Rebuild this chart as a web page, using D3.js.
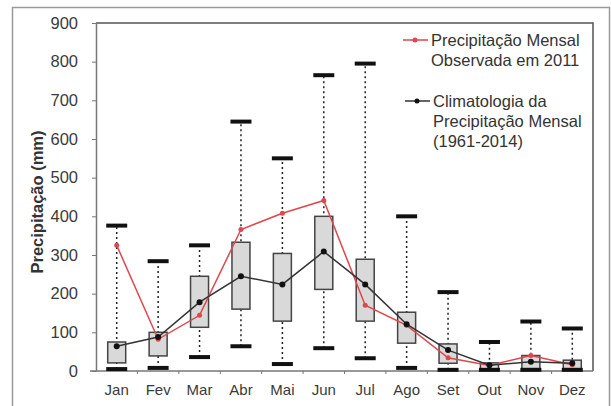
<!DOCTYPE html>
<meta charset='utf-8'>
<style>
body { margin: 0; background: #fff; }
svg { font-family: 'Liberation Sans', Arial, sans-serif; }
.axis text { fill: #3a3a3a; }
.axis path, .axis line { stroke: #777; }
</style>
<svg width='611' height='406'></svg>
<script src='https://cdnjs.cloudflare.com/ajax/libs/d3/7.8.5/d3.min.js'></script>
<script>
// months and the box statistics (mm)
var months = ['Jan', 'Fev', 'Mar', 'Abr', 'Mai', 'Jun', 'Jul', 'Ago', 'Set', 'Out', 'Nov', 'Dez'];
var minVals = [5, 8, 36, 64, 18, 59, 33, 8, 3, 3, 3, 3];
var q1Vals = [21, 39, 113, 160, 129, 211, 129, 72, 20, 4, 6, 6];
var q3Vals = [75, 100, 245, 333, 304, 400, 289, 152, 70, 21, 40, 28];
var maxVals = [376, 284, 325, 645, 550, 765, 795, 400, 204, 75, 128, 110];
// climatology mean (1961-2014) and 2011 observed
var climVals = [64, 88, 178, 245, 224, 309, 224, 121, 54, 15, 24, 20];
var obsVals = [325, 82, 144, 366, 408, 441, 170, 118, 34, 14, 40, 16];
var yTicks = [0, 100, 200, 300, 400, 500, 600, 700, 800, 900];

var svg = d3.select('svg'),
    pLeft = 96, pRight = 593, pTop = 23, pBottom = 371;

// picture frame
svg.append('rect')
    .attr('x', 12.5).attr('y', 7.5)
    .attr('width', 597).attr('height', 410)
    .attr('fill', 'none').attr('stroke', '#9a9a9a').attr('stroke-width', 1.5);

var x = d3.scaleBand().domain(months).range([pLeft, pRight]).padding(0);
var y = d3.scaleLinear().domain([0, 900]).range([pBottom, pTop]);

// plot frame (top and right)
svg.append('path')
    .attr('d', `M${pLeft},${pTop}H${pRight}V${pBottom}`)
    .attr('fill', 'none').attr('stroke', '#555').attr('stroke-width', 1.5);

var yAxis = svg.append('g')
    .attr('class', 'axis')
    .attr('transform', `translate(${pLeft},0)`)
    .call(d3.axisLeft(y).tickValues(yTicks).tickSize(4).tickPadding(14).tickSizeOuter(0));
yAxis.select('.domain').attr('stroke', '#555').attr('stroke-width', 1.5);
yAxis.selectAll('text').attr('font-size', 16.5);

var xAxis = svg.append('g')
    .attr('class', 'axis')
    .attr('transform', `translate(0,${pBottom})`)
    .call(d3.axisBottom(x).tickSize(0).tickPadding(13).tickSizeOuter(0));
xAxis.select('.domain').attr('d', `M${pLeft - 6},0H${pRight}`).attr('stroke', '#555').attr('stroke-width', 1.5);
xAxis.selectAll('text').attr('font-size', 15);
// small ticks between months
xAxis.selectAll('.sep')
    .data(months.slice(1))
    .join('line')
    .attr('x1', d => x(d)).attr('x2', d => x(d))
    .attr('y1', 0).attr('y2', 3)
    .attr('stroke', '#888');

svg.append('text')
    .attr('transform', `translate(43,${(pTop + pBottom) / 2 + 5}) rotate(-90)`)
    .attr('text-anchor', 'middle')
    .attr('font-size', 16.5).attr('font-weight', 'bold').attr('fill', '#333')
    .text('Precipitação (mm)');

var bw = 18, cw = 21;
var boxes = svg.append('g').selectAll('g.box')
    .data(months.map((m, i) => ({m: m, i: i})))
    .join('g').attr('class', 'box')
    .attr('transform', d => `translate(${x(d.m) + x.bandwidth() / 2},0)`);

boxes.append('line')
    .attr('y1', d => y(minVals[d.i])).attr('y2', d => y(maxVals[d.i]))
    .attr('stroke', '#222').attr('stroke-width', 1.5).attr('stroke-dasharray', '2,3');
boxes.append('rect')
    .attr('x', -bw / 2).attr('width', bw)
    .attr('y', d => y(q3Vals[d.i]))
    .attr('height', d => y(q1Vals[d.i]) - y(q3Vals[d.i]))
    .attr('fill', '#d9d9d9').attr('stroke', '#444').attr('stroke-width', 1.5);
boxes.selectAll('line.cap')
    .data(d => [minVals[d.i], maxVals[d.i]])
    .join('line').attr('class', 'cap')
    .attr('x1', -cw / 2).attr('x2', cw / 2)
    .attr('y1', d => y(d)).attr('y2', d => y(d))
    .attr('stroke', '#111').attr('stroke-width', 4);

var cx = (d, i) => x(months[i]) + x.bandwidth() / 2;
var line = vals => d3.line().x((d, i) => cx(d, i)).y(d => y(d))(vals);

var red = '#e0464e';
svg.append('path').attr('d', line(obsVals))
    .attr('fill', 'none').attr('stroke', red).attr('stroke-width', 1.5);
svg.selectAll('circle.obs').data(obsVals).join('circle').attr('class', 'obs')
    .attr('cx', cx).attr('cy', d => y(d)).attr('r', 2.5).attr('fill', red);

svg.append('path').attr('d', line(climVals))
    .attr('fill', 'none').attr('stroke', '#333').attr('stroke-width', 1.5);
svg.selectAll('circle.clim').data(climVals).join('circle').attr('class', 'clim')
    .attr('cx', cx).attr('cy', d => y(d)).attr('r', 3).attr('fill', '#111');

// legend
var legend = svg.append('g').attr('font-size', 16.5).attr('fill', '#333');
legend.append('line').attr('x1', 403).attr('x2', 428).attr('y1', 40).attr('y2', 40)
    .attr('stroke', red).attr('stroke-width', 1.5);
legend.append('circle').attr('cx', 415).attr('cy', 40).attr('r', 2.5).attr('fill', red);
legend.append('text').attr('x', 431).attr('y', 46).text('Precipitação Mensal');
legend.append('text').attr('x', 431).attr('y', 66).text('Observada em 2011');
legend.append('line').attr('x1', 405).attr('x2', 430).attr('y1', 101).attr('y2', 101)
    .attr('stroke', '#333').attr('stroke-width', 1.5);
legend.append('circle').attr('cx', 417).attr('cy', 101).attr('r', 2.5).attr('fill', '#111');
legend.append('text').attr('x', 433).attr('y', 107).text('Climatologia da');
legend.append('text').attr('x', 433).attr('y', 127).text('Precipitação Mensal');
legend.append('text').attr('x', 433).attr('y', 147).text('(1961-2014)');
</script>
